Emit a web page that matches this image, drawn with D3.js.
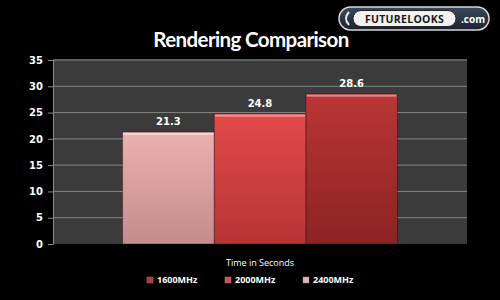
<!DOCTYPE html>
<html>
<head>
<meta charset="utf-8">
<script src="https://cdn.jsdelivr.net/npm/d3@7"></script>
<style>
  body { margin: 0; background: #000; }
  svg { display: block; }
  text { font-family: "Open Sans", "DejaVu Sans", sans-serif; }
</style>
</head>
<body>
<div id="chart-container"></div>
<script>
// Chart data
const categories = ["Time in Seconds"];
const seriesNames = ["1600MHz", "2000MHz", "2400MHz"];
const seriesValues = [28.6, 24.8, 21.3];
const seriesColors = [
  ["#bb3535", "#8c2323"],
  ["#e24a4a", "#b83434"],
  ["#ebb0b0", "#c48c8c"]
];
const yTicks = [0, 5, 10, 15, 20, 25, 30, 35];

const width = 500, height = 300;
const margin = { top: 60, right: 33, bottom: 56, left: 53 };
const plotW = width - margin.left - margin.right;
const plotH = height - margin.top - margin.bottom;

const svg = d3.select("#chart-container")
  .append("svg")
  .attr("width", width)
  .attr("height", height);

svg.append("rect").attr("width", width).attr("height", height).attr("fill", "#000");

const defs = svg.append("defs");
seriesColors.forEach((c, i) => {
  const g = defs.append("linearGradient")
    .attr("id", "grad" + i)
    .attr("x1", 0).attr("y1", 0).attr("x2", 0).attr("y2", 1);
  g.append("stop").attr("offset", "0%").attr("stop-color", c[0]);
  g.append("stop").attr("offset", "100%").attr("stop-color", c[1]);
});
const logoGrad = defs.append("linearGradient")
  .attr("id", "logoGrad").attr("x1", 0).attr("y1", 0).attr("x2", 0).attr("y2", 1);
logoGrad.append("stop").attr("offset", "0%").attr("stop-color", "#3a4a5c");
logoGrad.append("stop").attr("offset", "100%").attr("stop-color", "#1a2230");

// Title
svg.append("text")
  .attr("x", 251).attr("y", 47)
  .attr("text-anchor", "middle")
  .attr("fill", "#fff")
  .attr("font-size", 20.5)
  .attr("font-weight", "bold")
  .attr("letter-spacing", -0.6)
  .style("font-family", "Lato, 'Open Sans', sans-serif")
  .text("Rendering Comparison");

// Logo
const logo = svg.append("g").attr("transform", "translate(339,7)");
logo.append("rect")
  .attr("width", 150).attr("height", 23).attr("rx", 11.5)
  .attr("fill", "url(#logoGrad)")
  .attr("stroke", "#d8d8d8").attr("stroke-width", 1.5);
logo.append("path")
  .attr("d", "M10,5 Q4,11.5 10,18")
  .attr("fill", "none").attr("stroke", "#eee").attr("stroke-width", 2);
logo.append("rect")
  .attr("x", 14).attr("y", 3.5).attr("width", 103).attr("height", 16).attr("rx", 8)
  .attr("fill", "#f2f2f2")
  .attr("stroke", "#222").attr("stroke-width", 1);
logo.append("text")
  .attr("x", 65.5).attr("y", 15.5)
  .attr("text-anchor", "middle")
  .attr("fill", "#1a1a1a")
  .attr("font-size", 10.5)
  .attr("font-weight", "bold")
  .attr("letter-spacing", 0.3)
  .text("FUTURELOOKS");
logo.append("text")
  .attr("x", 134).attr("y", 15.5)
  .attr("text-anchor", "middle")
  .attr("fill", "#fff")
  .attr("font-size", 10)
  .attr("font-weight", "bold")
  .text(".com");

const g = svg.append("g")
  .attr("transform", `translate(${margin.left},${margin.top})`);

// Scales
const yScale = d3.scaleLinear().domain([0, 35]).range([plotH, 0]);
const xScale = d3.scaleBand().domain(categories).range([0, plotW]).paddingInner(0).paddingOuter(0.253);
// bars drawn right-to-left in series order (Excel style)
const barOrder = seriesNames.slice().reverse();
const xInner = d3.scaleBand().domain(barOrder).range([0, xScale.bandwidth()]);

// Plot background
g.append("rect")
  .attr("x", 0).attr("y", -1)
  .attr("width", plotW).attr("height", plotH + 1)
  .attr("fill", "#3b3b3b");

// Gridlines
g.append("g")
  .selectAll("line")
  .data(yTicks.filter(d => d > 0))
  .join("line")
  .attr("x1", 0).attr("x2", plotW)
  .attr("y1", d => yScale(d)).attr("y2", d => yScale(d))
  .attr("stroke", "#858585")
  .attr("stroke-width", 1);

// Y axis
const yAxis = g.append("g")
  .call(d3.axisLeft(yScale).tickValues(yTicks).tickSize(5).tickPadding(5));
yAxis.select(".domain").attr("stroke", "#8a8a8a");
yAxis.selectAll(".tick line").attr("stroke", "#8a8a8a");
yAxis.selectAll(".tick text")
  .attr("fill", "#fff")
  .attr("font-size", 10)
  .attr("font-weight", "bold")
  .style("font-family", "'DejaVu Sans', sans-serif");

// Bars
const bars = g.append("g")
  .selectAll("g")
  .data(seriesNames.map((name, i) => ({ name, value: seriesValues[i], idx: i })))
  .join("g");

bars.append("rect")
  .attr("x", d => xScale(categories[0]) + xInner(d.name))
  .attr("y", d => yScale(d.value))
  .attr("width", xInner.bandwidth())
  .attr("height", d => plotH - yScale(d.value))
  .attr("fill", d => `url(#grad${d.idx})`)
  .attr("stroke", "rgba(0,0,0,0.35)")
  .attr("stroke-width", 1);

// top bevel highlight
bars.append("rect")
  .attr("x", d => xScale(categories[0]) + xInner(d.name) + 1)
  .attr("y", d => yScale(d.value) + 1)
  .attr("width", xInner.bandwidth() - 2)
  .attr("height", 2)
  .attr("fill", "rgba(255,255,255,0.45)");

// Value labels
bars.append("text")
  .attr("x", d => xScale(categories[0]) + xInner(d.name) + xInner.bandwidth() / 2)
  .attr("y", d => yScale(d.value) - 7)
  .attr("text-anchor", "middle")
  .attr("fill", "#fff")
  .attr("font-size", 10)
  .attr("font-weight", "bold")
  .style("font-family", "'DejaVu Sans', sans-serif")
  .text(d => d.value.toFixed(1));

// Category label
svg.append("text")
  .attr("x", margin.left + xScale(categories[0]) + xScale.bandwidth() / 2)
  .attr("y", 266)
  .attr("text-anchor", "middle")
  .attr("fill", "#fff")
  .attr("font-size", 9)
  .text(categories[0]);

// Legend
const legend = svg.append("g").attr("transform", "translate(147,283)");
const legendItems = legend.selectAll("g")
  .data(seriesNames)
  .join("g")
  .attr("transform", (d, i) => `translate(${i * 78},0)`);
legendItems.append("rect")
  .attr("x", 0).attr("y", -6)
  .attr("width", 6).attr("height", 6)
  .attr("fill", (d, i) => seriesColors[i][0])
  .attr("stroke", "#888").attr("stroke-width", 0.5);
legendItems.append("text")
  .attr("x", 10).attr("y", 0)
  .attr("fill", "#fff")
  .attr("font-size", 9)
  .attr("font-weight", "bold")
  .text(d => d);
</script>
</body>
</html>
